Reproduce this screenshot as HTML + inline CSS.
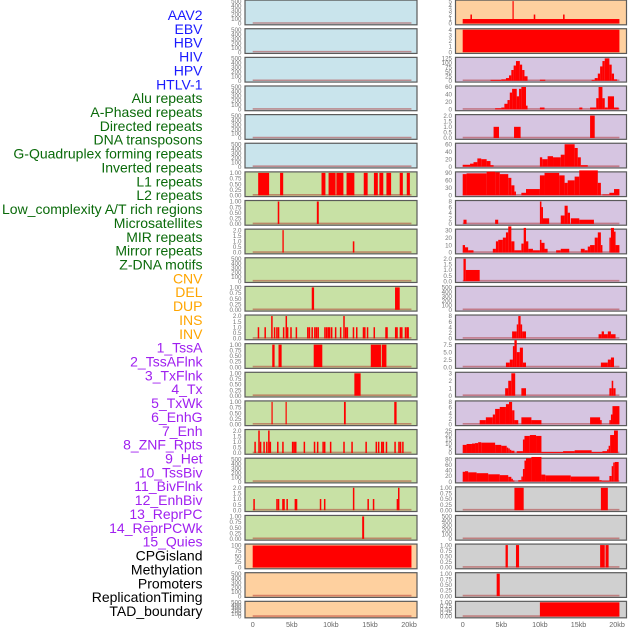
<!DOCTYPE html>
<html><head><meta charset="utf-8">
<style>
html,body{margin:0;padding:0;background:#fff;width:630px;height:630px;overflow:hidden}
svg{display:block;font-family:"Liberation Sans",sans-serif}
</style></head>
<body>
<svg id="chart" width="630" height="630" viewBox="0 0 630 630"></svg>
<script>
// ---------- DATA ----------
const trackLabels = ["AAV2","EBV","HBV","HIV","HPV","HTLV-1","Alu repeats","A-Phased repeats","Directed repeats","DNA transposons","G-Quadruplex forming repeats","Inverted repeats","L1 repeats","L2 repeats","Low_complexity A/T rich regions","Microsatellites","MIR repeats","Mirror repeats","Z-DNA motifs","CNV","DEL","DUP","INS","INV","1_TssA","2_TssAFlnk","3_TxFlnk","4_Tx","5_TxWk","6_EnhG","7_Enh","8_ZNF_Rpts","9_Het","10_TssBiv","11_BivFlnk","12_EnhBiv","13_ReprPC","14_ReprPCWk","15_Quies","CPGisland","Methylation","Promoters","ReplicationTiming","TAD_boundary"];
const labelGroups = ["v","v","v","v","v","v","r","r","r","r","r","r","r","r","r","r","r","r","r","c","c","c","c","c","s","s","s","s","s","s","s","s","s","s","s","s","s","s","s","o","o","o","o","o"];
const xTickValues = [0,5,10,15,20];
const xTickLabels = ["0","5kb","10kb","15kb","20kb"];

const T500 = ["0","100","200","300","400","500"];
const T1 = ["0.00","0.25","0.50","0.75","1.00"];
const T2 = ["0.0","0.5","1.0","1.5","2.0"];

const leftBg = ["b","b","b","b","b","b","g","g","g","g","g","g","g","g","g","g","g","g","g","o","o","o"];
const rightBg = ["o","o","p","p","p","p","p","p","p","p","p","p","p","p","p","p","p","y","y","y","y","y"];

const leftTicks = [T500,T500,T500,T500,T500,T500,T1,T1,T2,T500,T1,T2,T1,T1,T1,T2,T500,T2,T1,["0","25","50","75","100"],T500,T500];
const rightTicks = [["0","1","2","3","4","5"],["0","1","2","3","4"],["0","25","50","75","100","125"],["0","20","40","60"],T2,["0","20","40","60"],["0","30","60","90"],["0","2","4","6","8"],["0","10","20","30"],T2,T500,["0","2","4","6","8"],["0.0","2.5","5.0","7.5"],["0","1","2","3"],["0","2","4","6","8"],["0","5","10","15","20","25"],["0","20","40","60","80"],T1,T500,T1,T1,T1];

const L7 = [[0.7,2.1,1],[3.5,3.9,1],[8.8,9.3,1],[9.7,10.6,1],[10.7,11.6,1],[12.0,13.0,1],[14.2,14.7,1],[15.5,16.0,1],[16.2,16.7,1],[17.1,17.7,1],[18.8,19.2,1],[19.7,20.1,1]];
const L8 = [[3.2,3.4,1],[8.2,8.45,1]];
const L9 = [[3.8,3.97,2],[12.8,13.0,1]];
const L11 = [[7.55,7.85,1],[18.2,18.8,1]];
const L12pos = [0.73,1.59,2.45,2.79,3.09,3.3,3.95,4.29,4.46,4.89,5.58,7.04,7.25,7.6,7.94,8.15,8.37,9.23,9.44,9.66,9.83,10.09,10.6,11.24,11.67,11.89,12.1,12.88,13.3,14.16,14.33,14.68,15.54,17.04,17.17,18.28,18.45,18.88,19.06,19.53,19.74,19.87];
const L12val = [1,1,2,1,1,1,1,2,1,1,1,1,1,1,1,1,1,1,1,1,1,1,1,1,2,1,1,1,1,1,1,1,1,1,1,1,1,1,1,1,1,1];
const L13 = [[2.5,2.8,1],[3.3,3.7,1],[7.8,8.9,1],[15.1,16.4,1],[16.5,17.1,1]];
const L14 = [[13.0,13.8,1]];
const L15 = [[2.4,2.55,1],[4.2,4.35,1],[11.67,11.9,1],[18.1,18.4,1]];
const L16pos = [0.3,0.8,1.0,1.45,1.8,2.06,2.25,3.2,3.86,5.1,5.3,5.5,6.6,7.9,8.3,9.0,9.2,9.96,11.67,12.7,14.5,15.8,16.1,16.5,16.7,17.1,18.2,18.7,18.9,19.2];
const L16val = [1,2,1,1,1,2,1,1,1,1,1,1,1,1,1,1,1,1,1,1,1,1,1,1,1,1,1,1,1,1];
const L18pos = [0.17,3.1,3.3,3.86,4.0,4.4,5.45,5.6,8.67,9.2,12.9,14.76,15.45,18.5,18.67];
const L18val = [1,1,1,1,1,1,1,1,1,1,2,1,1,1,2];
const L19 = [[14.0,14.25,1]];
const L20 = [[0,20.3,98]];

const R1 = [[0,20.3,1],[1.0,1.2,2],[6.45,6.6,5],[9.2,9.4,2],[13.0,13.2,2]];
const R2 = [[0,20.3,4]];
const R3 = [[3.6,5.0,5],[5.0,5.6,8],[5.6,6.0,15],[6.0,6.3,30],[6.3,6.6,60],[6.6,6.9,85],[6.9,7.4,110],[7.4,7.7,90],[7.7,8.0,60],[8.0,8.4,25],[10.0,10.7,6],[16.7,17.1,5],[17.1,17.5,15],[17.5,17.8,40],[17.8,18.1,80],[18.1,18.4,110],[18.4,19.0,125],[19.0,19.3,90],[19.3,19.6,40],[19.6,20.0,8]];
const R4 = [[4.2,5.0,3],[5.0,5.4,5],[5.4,5.8,15],[5.8,6.1,25],[6.1,6.4,45],[6.4,7.0,55],[7.0,7.3,35],[7.3,7.6,55],[7.6,8.2,60],[8.2,8.4,10],[10.0,10.6,5],[15.1,15.5,5],[16.5,17.3,5],[17.3,17.6,30],[17.6,18.1,60],[18.1,18.4,30],[18.4,18.8,5],[18.8,19.6,35],[19.6,20.2,5]];
const R5 = [[4.0,4.7,1],[6.65,7.5,1],[16.5,17.1,2]];
const R6 = [[0,0.95,5],[0.95,1.4,8],[1.4,1.9,12],[1.9,2.4,22],[2.4,3.1,20],[3.1,3.6,15],[3.6,4.0,4],[10.0,10.3,25],[10.3,11.0,20],[11.0,11.7,28],[11.7,12.7,25],[12.7,13.2,32],[13.2,14.5,60],[14.5,14.9,50],[14.9,15.3,25],[15.3,16.2,4]];
const R7 = [[0,0.5,85],[0.5,3.1,88],[3.1,4.2,95],[4.2,4.8,92],[4.8,5.9,85],[5.9,6.3,70],[6.3,6.7,40],[6.7,6.9,15],[7.6,8.2,10],[8.2,10.0,25],[10.0,10.6,80],[10.6,12.5,90],[12.5,13.2,80],[13.2,13.6,50],[13.6,14.5,60],[14.5,15.1,75],[15.1,17.5,100],[17.5,17.9,50],[18.1,19.0,3],[19.0,19.6,10],[19.6,20.3,25]];
const R8 = [[0.1,0.5,1.5],[4.2,4.6,1.5],[10.0,10.2,8],[10.2,10.4,6],[10.4,11.2,2],[12.7,13.2,3],[13.2,13.6,6.5],[13.6,13.9,4],[14.0,15.1,2],[15.1,17.0,1.5]];
const R9 = [[0,0.3,10],[0.3,0.7,7],[0.7,1.4,3],[3.9,4.3,5],[4.3,4.6,15],[4.6,5.2,17],[5.2,5.6,20],[5.6,5.9,27],[5.9,6.3,35],[6.3,6.7,15],[6.7,7.6,3],[7.6,7.9,12],[7.9,8.2,33],[8.2,8.5,15],[8.5,9.1,5],[9.1,10.0,3],[10.0,10.2,17],[10.2,10.6,13],[10.6,11.0,5],[12.1,12.7,3],[12.7,13.8,5],[15.3,15.8,5],[15.8,16.2,3],[16.2,16.5,8],[16.5,17.1,10],[17.1,17.5,20],[17.5,17.9,27],[17.9,18.1,10],[19.0,19.2,20],[19.2,19.6,33],[19.6,19.8,28],[19.8,20.3,10]];
const R10 = [[0.1,0.4,2],[0.4,2.2,1]];
const R12 = [[6.4,7.0,2.5],[7.0,7.2,5],[7.2,7.5,8],[7.5,7.7,5],[7.7,8.2,2.5],[17.6,18.0,1.5],[18.0,18.3,2.5],[18.3,18.8,1.5],[18.8,19.2,2.5],[19.2,19.8,1.5]];
const R13 = [[5.6,6.1,1.5],[6.1,6.5,2.5],[6.5,6.7,7],[6.7,7.0,9],[7.0,7.4,5],[7.4,7.8,6.5],[7.8,8.2,1.5],[17.9,18.8,1.5],[18.8,19.2,2.5],[19.2,19.6,3.2]];
const R14 = [[5.5,5.9,1],[5.9,6.3,2],[6.3,6.8,3],[7.6,8.2,1],[19.0,19.3,1],[19.3,19.5,2],[19.5,19.8,1]];
const R15 = [[2.2,3.0,1.5],[3.0,3.9,2.5],[3.9,4.2,3.5],[4.2,4.8,5.5],[4.8,5.6,6.2],[5.6,6.0,7.2],[6.0,6.4,8],[6.4,6.7,5],[6.7,7.2,1.5],[7.6,8.9,2.5],[8.9,10.2,1.5],[16.5,17.8,2.5],[17.8,18.0,1.5],[19.0,19.2,1.5],[19.2,19.4,3.5],[19.4,20.3,6.5]];
const R16 = [[0,0.5,9],[0.5,1.2,10],[1.2,1.6,10.5],[1.6,2.0,11],[2.0,2.4,12],[2.4,4.2,11.5],[4.2,5.0,9],[5.0,5.7,8],[5.7,5.9,6],[5.9,6.1,5],[6.1,6.3,3.5],[6.3,6.7,2.5],[7.0,7.8,2],[7.8,8.0,15],[8.0,8.7,19],[8.7,9.5,20],[9.5,10.2,19],[10.2,13.0,1],[13.0,14.5,2],[14.5,16.7,3],[16.7,18.1,1],[18.1,18.7,2],[18.7,18.9,4],[18.9,19.1,8],[19.1,19.6,20],[19.6,20.1,25]];
const R17 = [[0,0.3,35],[0.3,0.7,37],[0.7,1.8,33],[1.8,3.3,30],[3.3,4.8,26],[4.8,5.9,23],[5.9,6.3,17],[6.3,6.5,10],[6.5,6.7,4],[7.2,7.6,5],[7.6,7.8,18],[7.8,8.0,45],[8.0,8.2,75],[8.2,8.9,83],[8.9,10.2,88],[10.2,10.7,25],[10.7,14.0,22],[14.0,17.7,18],[17.7,18.0,5],[18.0,19.0,3],[19.0,19.3,20],[19.3,19.5,55],[19.5,19.7,68],[19.7,20.2,70]];
const R18 = [[6.7,7.9,1],[17.9,18.8,1]];
const R20 = [[5.55,5.85,1],[6.9,7.3,1],[17.8,18.4,1],[18.5,18.9,1]];
const R21 = [[4.4,4.8,1]];
const R22 = [[10.0,20.3,1]];

const leftSegs = [[],[],[],[],[],[],L7,L8,L9,[],L11,null,L13,L14,L15,null,[],null,L19,L20,[],[]];
const leftLines = {11:[L12pos,L12val],15:[L16pos,L16val],17:[L18pos,L18val]};
const rightSegs = [R1,R2,R3,R4,R5,R6,R7,R8,R9,R10,[],R12,R13,R14,R15,R16,R17,R18,[],R20,R21,R22];

// ---------- RENDER ----------
const NS = "http://www.w3.org/2000/svg";
const svg = document.getElementById("chart");
const bgColors = {b:"#c9e4ec",g:"#c8e1a5",o:"#fed09f",p:"#d6c5e1",y:"#d0d0d0"};
const labelColors = {v:"#1a1aff",r:"#0a6a0a",c:"#ffa500",s:"#a020f0",o:"#000000"};
const cols = [{x0:245,x1:417,z:252.7,k:7.82},{x0:455.5,x1:626.5,z:462.7,k:7.72}];
function mk(tag, attrs){const e=document.createElementNS(NS,tag);for(const a in attrs)e.setAttribute(a,attrs[a]);svg.appendChild(e);return e;}
function rowTop(i){return 0.1+i*28.63;}
function rowH(i){return i===21?16.5:24.7;}

trackLabels.forEach((t,i)=>{
  const e = mk("text",{x:202.5,y:20+i*13.86,"text-anchor":"end","font-size":"14",fill:labelColors[labelGroups[i]]});
  e.textContent = t;
  
  
});

function drawPanel(c, i, bg, ticks, segs, lines, side){
  const col = cols[c], t = rowTop(i), h = rowH(i);
  const ymax = parseFloat(ticks[ticks.length-1]);
  const yb = t+h-1.3, yt = t+1.0;
  const ys = v => yb - (v/ymax)*(yb-yt);
  const xs = kb => col.z + kb*col.k;
  const g = document.createElementNS(NS,"g"); svg.appendChild(g);
  
  
  const r = document.createElementNS(NS,"rect");
  r.setAttribute("x",col.x0);r.setAttribute("y",t);r.setAttribute("width",col.x1-col.x0);r.setAttribute("height",h);
  r.setAttribute("fill",bgColors[bg]);r.setAttribute("stroke","#5a5a5a");r.setAttribute("stroke-width","1.2");
  
  
  g.appendChild(r);
  const bl = document.createElementNS(NS,"line");
  bl.setAttribute("x1",xs(0));bl.setAttribute("x2",xs(20.3));bl.setAttribute("y1",yb-0.5);bl.setAttribute("y2",yb-0.5);
  bl.setAttribute("stroke","rgba(170,30,30,0.45)");bl.setAttribute("stroke-width","1.6");
  
  
  g.appendChild(bl);
  (segs||[]).forEach(s=>{
    const b = document.createElementNS(NS,"rect");
    const x = xs(s[0]), w = Math.max(1.2, xs(s[1])-xs(s[0]));
    b.setAttribute("x",x);b.setAttribute("width",w);b.setAttribute("y",ys(s[2]));b.setAttribute("height",yb-ys(s[2]));
    b.setAttribute("fill","#ff0000");
    
    
    g.appendChild(b);
  });
  if(lines){
    lines[0].forEach((p,j)=>{
      const b = document.createElementNS(NS,"rect");
      const v = lines[1][j];
      b.setAttribute("x",xs(p)-0.7);b.setAttribute("width",1.5);b.setAttribute("y",ys(v));b.setAttribute("height",yb-ys(v));
      b.setAttribute("fill","#ff0000");
      
      
      g.appendChild(b);
    });
  }
  ticks.forEach(tk=>{
    const tx = document.createElementNS(NS,"text");
    tx.setAttribute("x",col.x0-3.5);tx.setAttribute("y",ys(parseFloat(tk))+2.2);
    tx.setAttribute("text-anchor","end");tx.setAttribute("font-size","6.2");tx.setAttribute("fill","#777");
    tx.textContent = tk;
    
    
    g.appendChild(tx);
  });
}
for(let i=0;i<22;i++){
  drawPanel(0,i,leftBg[i],leftTicks[i],leftSegs[i],leftLines[i],"left");
  drawPanel(1,i,rightBg[i],rightTicks[i],rightSegs[i],null,"right");
}
cols.forEach((col,c)=>{
  xTickValues.forEach((v,j)=>{
    const e = mk("text",{x:col.z+v*col.k,y:627,"text-anchor":"middle","font-size":"7.2",fill:"#666"});
    e.textContent = xTickLabels[j];
    
    
  });
});
</script>
</body></html>
